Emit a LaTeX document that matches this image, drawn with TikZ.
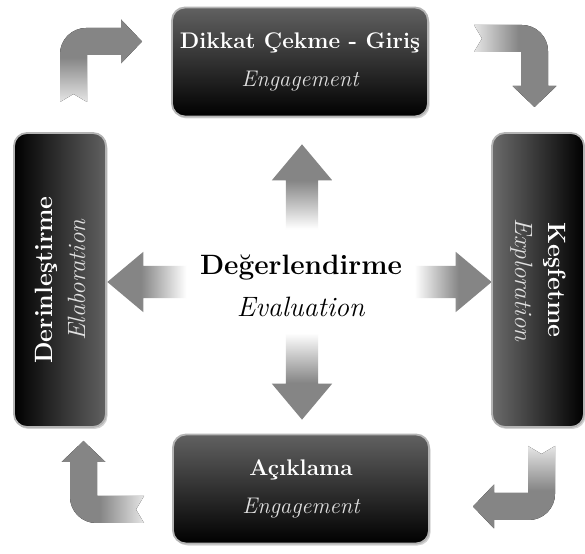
\documentclass[tikz,border=0pt]{standalone}
\usepackage{fontspec}
\usetikzlibrary{shapes.arrows,shadows}
\definecolor{cyclegray}{HTML}{858585}
\definecolor{cycleedge}{HTML}{B4B4B4}
\definecolor{cyclesub}{HTML}{E0E0E0}
\pgfdeclarehorizontalshading{armfade}{100bp}{color(0bp)=(white); color(28bp)=(white); color(55bp)=(cyclegray); color(100bp)=(cyclegray)}
\pgfdeclarehorizontalshading{bendfade}{100bp}{color(0bp)=(black!10); color(25bp)=(black!10); color(52bp)=(cyclegray); color(100bp)=(cyclegray)}
\newcommand{\bendarrow}[3]{%
  \fill[shading=bendfade, shading angle=#3, shift={#1}, rotate=#2]
    (0,-74) -- (0,-26) arc[start angle=180, end angle=90, radius=26]
    -- (61,0) -- (61,8.5) -- (82,-13.5) -- (61,-35.5) -- (61,-27)
    -- (27,-27) -- (27,-74) -- (13.5,-66) -- cycle;}

\begin{document}
\begin{tikzpicture}[
  x=1pt, y=1pt,
  phase/.style={draw=cycleedge, line width=1.8pt, rounded corners=13pt,
                top color=black!62, bottom color=black, text=white, align=center,
                drop shadow={opacity=.35, shadow xshift=1.5pt, shadow yshift=-2pt}},
  wide/.style={phase, minimum width=256pt, minimum height=109pt,
               font=\fontsize{22.6}{38}\selectfont},
  tall/.style={phase, rotate=#1, minimum width=294pt, minimum height=92pt,
               font=\fontsize{25}{33}\selectfont},
  arm/.style={single arrow, shading=armfade, draw=none, inner xsep=0pt, inner ysep=16pt,
              single arrow head extend=14pt, single arrow tip angle=80, minimum height=#1}
]
\path[use as bounding box, fill=white] (0,0) rectangle (585,553);

% evaluation in the middle
\node[arm=90, rotate=90, shading angle=90] (armup) at (302,354) {};
\node[arm=92, rotate=-90, shading angle=-90] (armdown) at (302,189) {};
\node[arm=84, rotate=180, shading angle=180] (armleft) at (159,271) {};
\node[arm=82] (armright) at (441,271) {};
\node[font=\fontsize{28}{42}\selectfont, align=center] (evaluate) at (301,267)
  {\textbf{Değerlendirme}\\\textit{Evaluation}};

% the four phases
\node[wide] (engage) at (300,491) {\textbf{Dikkat Çekme - Giriş}\\\textit{\color{cyclesub}Engagement}};
\node[tall=-90, left color=black!58, right color=black] (explore) at (538,273)
  {\textbf{Keşfetme}\\\textit{\color{cyclesub}Exploration}};
\node[wide] (explain) at (301,64) {\textbf{Açıklama}\\\textit{\color{cyclesub}Engagement}};
\node[tall=90, left color=black, right color=black!62] (elaborate) at (60,273)
  {\textbf{Derinleştirme}\\\textit{\color{cyclesub}Elaboration}};

% corner arrows
\bendarrow{(60,525)}{0}{90}
\bendarrow{(548,528)}{-90}{0}
\bendarrow{(555,33)}{180}{-90}
\bendarrow{(70,30)}{90}{180}
\end{tikzpicture}
\end{document}
